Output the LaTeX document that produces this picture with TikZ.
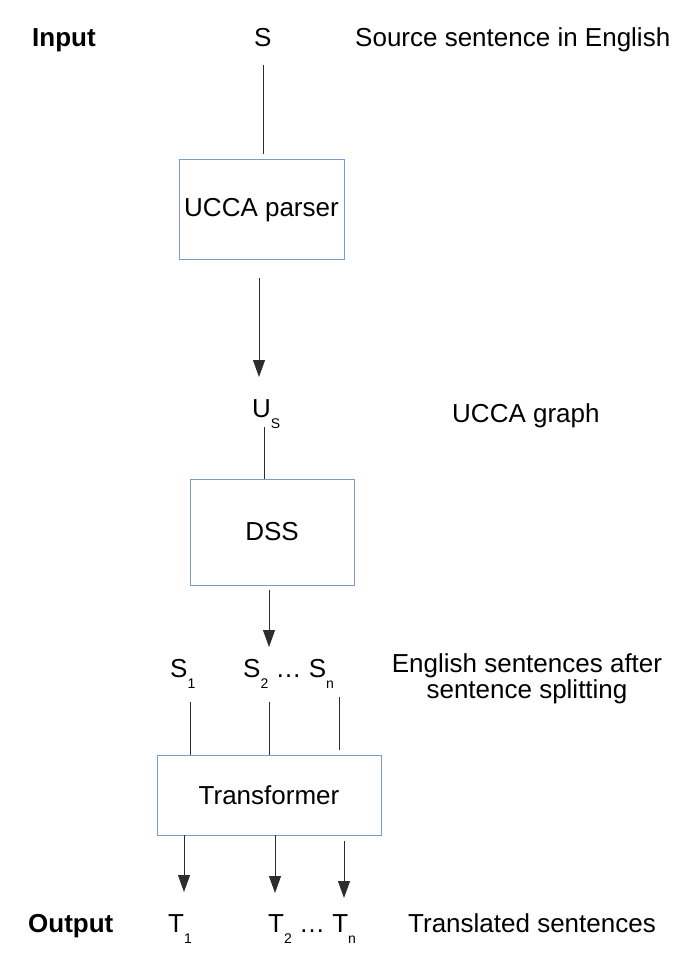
\documentclass[tikz,border=0pt]{standalone}
\usepackage{fontspec}
\setmainfont{Liberation Sans}
\usetikzlibrary{arrows.meta}
\definecolor{boxblue}{RGB}{122,156,204}
\definecolor{linegray}{RGB}{45,45,45}
\newcommand\mysub[1]{\raisebox{-11pt}{\fontsize{14}{14}\selectfont #1}}
\begin{document}
\begin{tikzpicture}[x=1pt,y=-1pt,
  txt/.style={inner sep=0pt,anchor=base west,font=\fontsize{26}{28}\selectfont},
  lbl/.style={txt,font=\fontsize{26}{28}\selectfont\bfseries},
  procbox/.style={draw=boxblue,line width=1pt,inner sep=0pt,font=\fontsize{26}{28}\selectfont},
  conn/.style={draw=linegray,line width=0.9pt},
  arr/.style={conn,-{Triangle[width=12pt,length=17pt]}}]
\useasboundingbox (0,0) rectangle (690,957);
% top row
\node[lbl] (input) at (32,47) {Input};
\node[txt] (s) at (254,47) {S};
\node[txt] (srcdesc) at (355,47) {Source sentence in English};
% UCCA parser
\node[procbox,minimum width=165pt,minimum height=100pt] (ucca) at (261.5,210) {UCCA parser};
\coordinate (l1a) at (263,65);
\coordinate (l1b) at (263,154);
\draw[conn] (l1a) -- (l1b);
\coordinate (a1a) at (259,278);
\coordinate (a1b) at (259,377);
\draw[arr] (a1a) -- (a1b);
% U_S
\node[txt] (us) at (252,417) {U\mysub{S}};
\node[txt] (graphdesc) at (452,422) {UCCA graph};
% DSS
\node[procbox,minimum width=164pt,minimum height=106pt] (dss) at (272,532) {DSS};
\coordinate (l2a) at (264,427);
\coordinate (l2b) at (264,479);
\draw[conn] (l2a) -- (l2b);
\coordinate (a2a) at (269,590);
\coordinate (a2b) at (269,647);
\draw[arr] (a2a) -- (a2b);
% split sentences
\node[txt] (s1) at (170,677) {S\mysub{1}};
\node[txt] (s2n) at (243,677) {S\mysub{2} … S\mysub{n}};
\node[font=\fontsize{26}{26}\selectfont,align=center,inner sep=0pt,anchor=base] (splitdesc) at (527,698) {English sentences after\\sentence splitting};
% Transformer
\node[procbox,minimum width=224pt,minimum height=80pt] (trans) at (269,795) {Transformer};
\coordinate (l3a) at (190,702);
\coordinate (l3b) at (190,755);
\coordinate (l4a) at (269,702);
\coordinate (l4b) at (269,755);
\coordinate (l5a) at (339,697);
\coordinate (l5b) at (339,750);
\draw[conn] (l3a) -- (l3b);
\draw[conn] (l4a) -- (l4b);
\draw[conn] (l5a) -- (l5b);
\coordinate (a3a) at (184,835);
\coordinate (a3b) at (184,892);
\coordinate (a4a) at (275,835);
\coordinate (a4b) at (275,893);
\coordinate (a5a) at (344,841);
\coordinate (a5b) at (344,898);
\draw[arr] (a3a) -- (a3b);
\draw[arr] (a4a) -- (a4b);
\draw[arr] (a5a) -- (a5b);
% output row
\node[lbl] (output) at (28,932) {Output};
\node[txt] (t1) at (168,932) {T\mysub{1}};
\node[txt] (t2n) at (268,932) {T\mysub{2} … T\mysub{n}};
\node[txt] (transdesc) at (408,932) {Translated sentences};
\end{tikzpicture}
\end{document}
